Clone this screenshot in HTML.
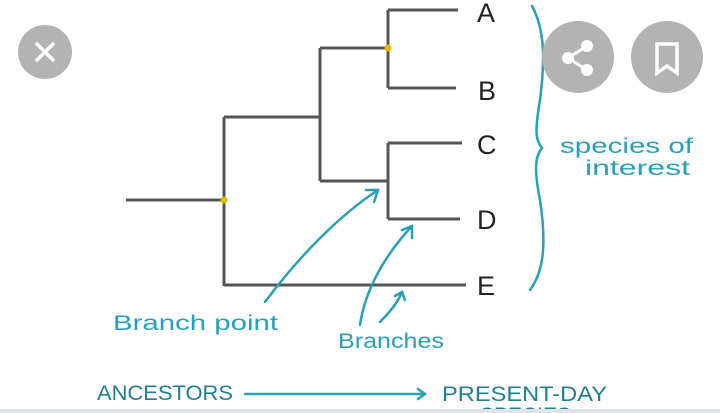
<!DOCTYPE html>
<html><head><style>body{margin:0;width:720px;height:413px;overflow:hidden;background:#fff}</style></head>
<body>
<svg width="720" height="413" xmlns="http://www.w3.org/2000/svg" style="position:absolute;left:0;top:0">
<g stroke="#555" stroke-width="3" fill="none">
<path d="M126 200H224M224 117V286M224 285H466M224 117H320M320 48V181M320 48H388M388 10V88M388 10H458M388 88H456M320 181H388M388 143V219M388 143H462M388 219H460"/>
</g>
<circle cx="224" cy="200" r="3.5" fill="#e8b800"/>
<circle cx="388" cy="48" r="3.5" fill="#e8b800"/>
<g font-family="Liberation Sans, sans-serif" font-size="27" fill="#222">
<text x="477" y="22">A</text><text x="478" y="100">B</text><text x="477" y="154">C</text><text x="477" y="229">D</text><text x="477" y="295">E</text>
</g>
<g stroke="#2aa0b8" stroke-width="2.5" fill="none" stroke-linecap="round">
<path d="M532 6C545 30 545 60 540 100C535 130 535 140 542 148C535 156 534 170 540 200C546 240 545 270 530 290"/>
<path d="M265 302C300 255 340 215 378 190M366 190L378 190L374 202"/>
<path d="M360 325C365 290 385 255 412 226M402 230L412 226L412 238"/>
<path d="M380 322C390 312 398 302 402 292M395 296L402 292L405 300"/>
<path d="M245 394H425M418 389L425 394L418 399"/>
</g>
<g font-family="Liberation Sans, sans-serif" fill="#2aa0b8" font-size="21">
<text x="113" y="330" textLength="165" lengthAdjust="spacingAndGlyphs">Branch point</text>
<text x="338" y="348" textLength="106" lengthAdjust="spacingAndGlyphs">Branches</text>
<text x="560" y="153" textLength="133" lengthAdjust="spacingAndGlyphs">species of</text>
<text x="585" y="175" textLength="105" lengthAdjust="spacingAndGlyphs">interest</text>
</g>
<g font-family="Liberation Sans, sans-serif" fill="#1f7f93" font-size="21">
<text x="97" y="400" textLength="136" lengthAdjust="spacingAndGlyphs">ANCESTORS</text>
<text x="442" y="401" textLength="165" lengthAdjust="spacingAndGlyphs">PRESENT-DAY</text>
<text x="480" y="422">SPECIES</text>
</g>
<rect x="0" y="409" width="720" height="4" fill="#dfe3e6"/>
<circle cx="45" cy="52" r="27" fill="#b3b3b3"/>
<path d="M36 43L54 61M54 43L36 61" stroke="#fff" stroke-width="3.5"/>
<circle cx="578" cy="57" r="36" fill="#b3b3b3"/>
<g fill="#fff"><circle cx="568" cy="58" r="6"/><circle cx="587" cy="46" r="6"/><circle cx="587" cy="70" r="6"/></g>
<path d="M568 58L587 46M568 58L587 70" stroke="#fff" stroke-width="3"/>
<circle cx="667" cy="57" r="36" fill="#b3b3b3"/>
<path d="M657 44H677V73L667 66L657 73Z" fill="none" stroke="#fff" stroke-width="3.5"/>
</svg>
</body></html>
